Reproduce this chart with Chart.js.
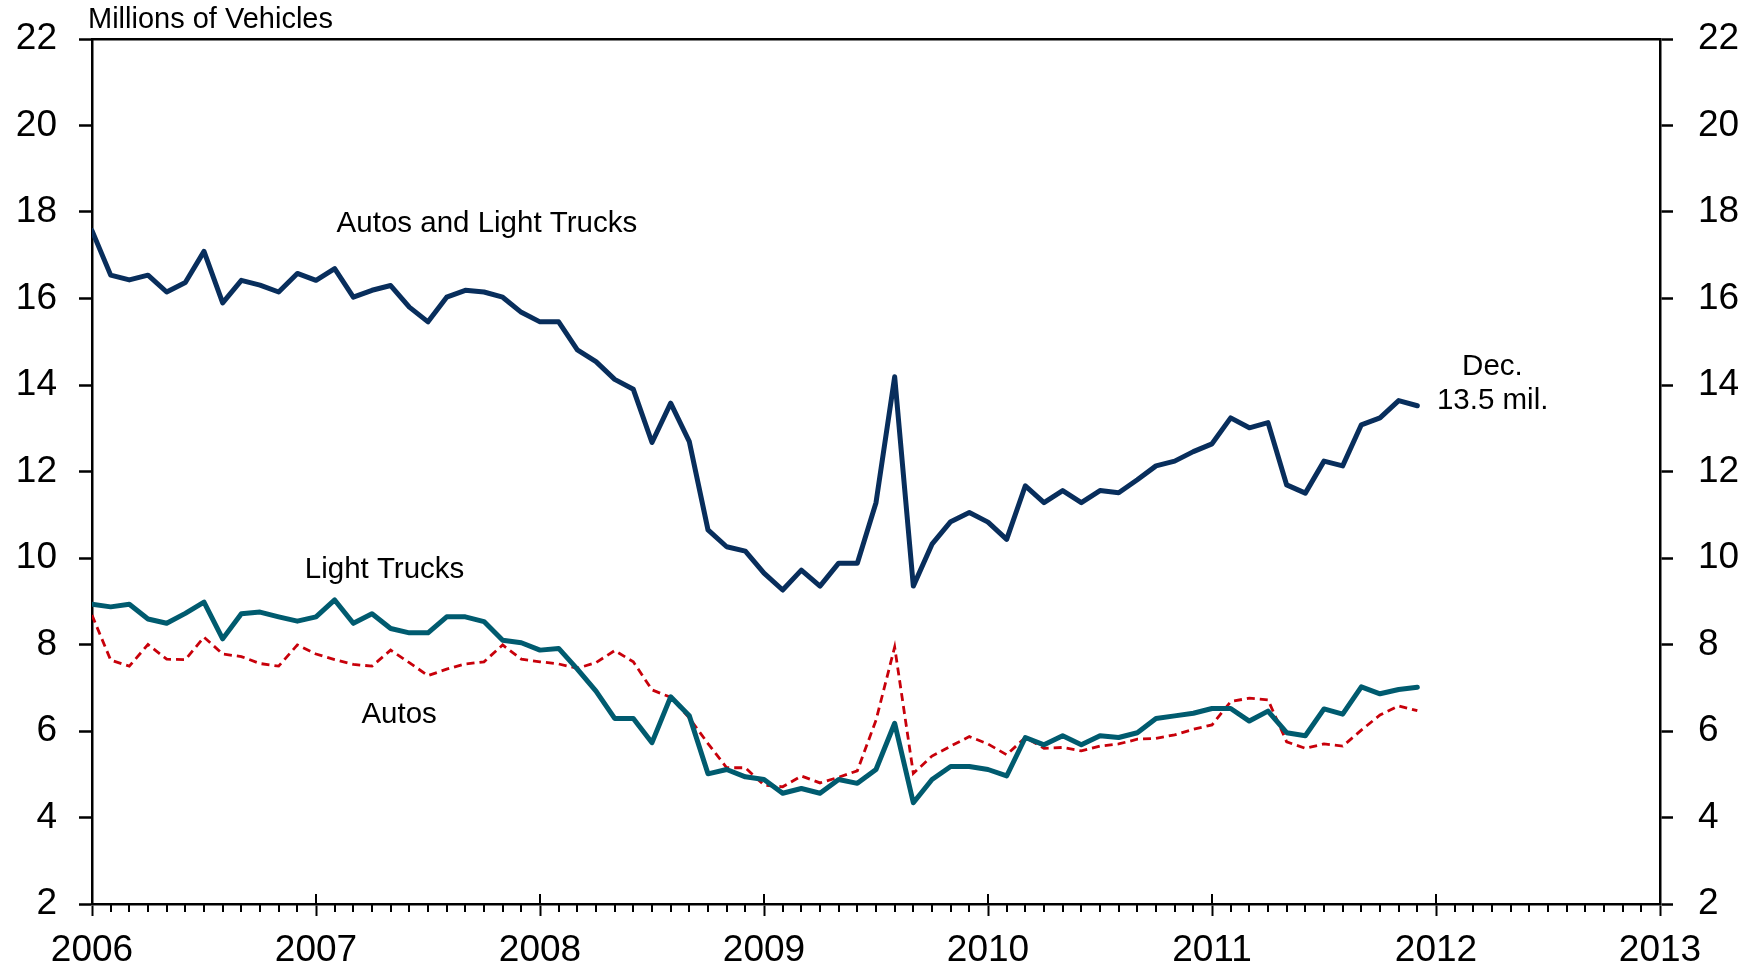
<!DOCTYPE html>
<html>
<head>
<meta charset="utf-8">
<script src="https://cdn.jsdelivr.net/npm/chart.js@4/dist/chart.umd.min.js"></script>
<style>
  html, body { margin: 0; padding: 0; background: #fff; }
  #wrap { width: 1758px; height: 968px; position: relative; }
</style>
</head>
<body>
<div id="wrap"><canvas id="myChart"></canvas></div>
<script>
// monthly, Jan 2006 .. Dec 2011 (millions of vehicles, annual rate)
const autosAndLightTrucks = [
  17.57, 16.54, 16.43, 16.54, 16.15, 16.37, 17.09, 15.90, 16.42, 16.31, 16.15, 16.58,
  16.42, 16.69, 16.03, 16.19, 16.30, 15.80, 15.46, 16.03, 16.19, 16.15, 16.03, 15.68,
  15.46, 15.46, 14.81, 14.54, 14.13, 13.90, 12.67, 13.58, 12.69, 10.65, 10.26, 10.16,
  9.65, 9.26, 9.72, 9.35, 9.88, 9.88, 11.28, 14.19, 9.35, 10.32, 10.84, 11.05,
  10.83, 10.43, 11.67, 11.28, 11.56, 11.28, 11.56, 11.51, 11.81, 12.13, 12.24, 12.46,
  12.64, 13.24, 13.01, 13.13, 11.69, 11.50, 12.24, 12.13, 13.08, 13.24, 13.64, 13.52
];

const lightTrucks = [
  8.93, 8.87, 8.93, 8.59, 8.49, 8.72, 8.98, 8.13, 8.71, 8.75, 8.64, 8.54,
  8.64, 9.03, 8.49, 8.71, 8.37, 8.27, 8.27, 8.64, 8.64, 8.53, 8.10, 8.04,
  7.87, 7.91, 7.43, 6.92, 6.29, 6.29, 5.73, 6.79, 6.35, 5.01, 5.11, 4.94,
  4.88, 4.56, 4.67, 4.56, 4.88, 4.79, 5.11, 6.18, 4.34, 4.88, 5.18, 5.18,
  5.11, 4.96, 5.85, 5.68, 5.89, 5.68, 5.89, 5.85, 5.96, 6.29, 6.35, 6.41,
  6.52, 6.52, 6.23, 6.46, 5.96, 5.89, 6.51, 6.39, 7.02, 6.86, 6.96, 7.01
];

const autos = [
  8.68, 7.64, 7.50, 8.00, 7.66, 7.65, 8.17, 7.78, 7.72, 7.56, 7.50, 7.99,
  7.78, 7.65, 7.54, 7.50, 7.87, 7.58, 7.28, 7.43, 7.55, 7.60, 7.99, 7.66,
  7.60, 7.55, 7.45, 7.58, 7.86, 7.60, 6.95, 6.78, 6.30, 5.71, 5.15, 5.15,
  4.75, 4.71, 4.96, 4.80, 4.93, 5.08, 6.25, 7.94, 5.02, 5.42, 5.65, 5.87,
  5.70, 5.45, 5.85, 5.60, 5.62, 5.54, 5.65, 5.70, 5.81, 5.83, 5.91, 6.04,
  6.14, 6.68, 6.76, 6.72, 5.75, 5.60, 5.70, 5.65, 6.02, 6.37, 6.58, 6.47
];

const startYear = 2006;
const endYear = 2013;
const yTicks = [2, 22, 2]; // min, max, step

// text on the chart, anchored in data units
const notes = [
  { text: 'Millions of Vehicles', x: 2005.982, y: 22.254, align: 'left', size: 29 },
  { text: 'Autos and Light Trucks', x: 2007.763, y: 17.54, align: 'center', size: 29.5 },
  { text: 'Light Trucks', x: 2007.306, y: 9.54, align: 'center', size: 29.5 },
  { text: 'Autos', x: 2007.371, y: 6.185, align: 'center', size: 29.5 },
  { text: 'Dec.', x: 2012.252, y: 14.23, align: 'center', size: 29.5 },
  { text: '13.5 mil.', x: 2012.253, y: 13.445, align: 'center', size: 29.5 }
];

const FONT = "'Liberation Sans', Arial, sans-serif";

function toPoints(values) {
  let pts = [];
  for (let i = 0; i < values.length; i++) {
    pts.push({ x: startYear + i / 12, y: values[i] });
  }
  return pts;
}

// monthly ticks under the x axis, plus the upper half of the year ticks
const monthTicks = {
  id: 'monthTicks',
  afterDraw(chart) {
    const c = chart.ctx;
    const xs = chart.scales.x;
    const bottom = chart.chartArea.bottom;
    c.save();
    c.strokeStyle = '#000';
    c.lineWidth = 2;
    c.beginPath();
    for (let m = 0; m <= (endYear - startYear) * 12; m++) {
      const px = Math.round(xs.getPixelForValue(startYear + m / 12));
      if (m % 12 === 0) {
        c.moveTo(px, bottom - 10);
        c.lineTo(px, bottom);
      } else {
        c.moveTo(px, bottom);
        c.lineTo(px, bottom + 8);
      }
    }
    c.stroke();
    c.restore();
  }
};

const chartNotes = {
  id: 'chartNotes',
  afterDraw(chart) {
    const c = chart.ctx;
    const xs = chart.scales.x;
    const ys = chart.scales.y;
    c.save();
    c.fillStyle = '#000';
    c.textBaseline = 'alphabetic';
    for (const n of notes) {
      c.font = n.size + 'px ' + FONT;
      c.textAlign = n.align;
      c.fillText(n.text, xs.getPixelForValue(n.x), ys.getPixelForValue(n.y));
    }
    c.restore();
  }
};

const yAxis = (pos, width, pad) => ({
  type: 'linear',
  position: pos,
  min: yTicks[0],
  max: yTicks[1],
  afterFit: (s) => {
    s.width = width;
    // labels may overhang the plot box; don't let them shrink it
    s.paddingTop = 0;
    s.paddingBottom = 0;
  },
  ticks: {
    stepSize: yTicks[2],
    padding: pad,
    color: '#000',
    font: { family: FONT, size: 37 }
  },
  grid: { drawOnChartArea: false, tickLength: 13, tickWidth: 2.5, tickColor: '#000' },
  border: { color: '#000', width: 2.5 }
});

const ctx = document.getElementById('myChart');

new Chart(ctx, {
  type: 'line',
  data: {
    datasets: [{
      label: 'Autos and Light Trucks',
      data: toPoints(autosAndLightTrucks),
      borderColor: '#082e5c',
      borderWidth: 5,
      pointRadius: 0,
      borderJoinStyle: 'round',
      borderCapStyle: 'round'
    }, {
      label: 'Light Trucks',
      data: toPoints(lightTrucks),
      borderColor: '#005b6f',
      borderWidth: 5,
      pointRadius: 0,
      borderJoinStyle: 'round',
      borderCapStyle: 'round'
    }, {
      label: 'Autos',
      data: toPoints(autos),
      borderColor: '#c8000a',
      borderWidth: 2.8,
      borderDash: [8, 5],
      pointRadius: 0
    }]
  },
  options: {
    responsive: true,
    maintainAspectRatio: false,
    animation: false,
    layout: { padding: 0, autoPadding: false },
    plugins: {
      legend: { display: false },
      tooltip: { enabled: false }
    },
    scales: {
      x: {
        type: 'linear',
        position: 'bottom',
        min: startYear,
        max: endYear,
        afterFit: (s) => {
          s.height = 64;
          s.paddingLeft = 0;
          s.paddingRight = 0;
        },
        ticks: {
          stepSize: 1,
          padding: 13,
          color: '#000',
          font: { family: FONT, size: 37 },
          callback: (v) => String(v)
        },
        grid: { drawOnChartArea: false, tickLength: 12, tickWidth: 2, tickColor: '#000' },
        border: { color: '#000', width: 2.5 }
      },
      xTop: {
        type: 'linear',
        position: 'top',
        display: true,
        min: startYear,
        max: endYear,
        afterFit: (s) => { s.height = 39; },
        ticks: { display: false },
        grid: { display: false },
        border: { color: '#000', width: 2.5 }
      },
      y: yAxis('left', 92, 22),
      y2: yAxis('right', 98, 25)
    }
  },
  plugins: [monthTicks, chartNotes]
});
</script>
</body>
</html>
